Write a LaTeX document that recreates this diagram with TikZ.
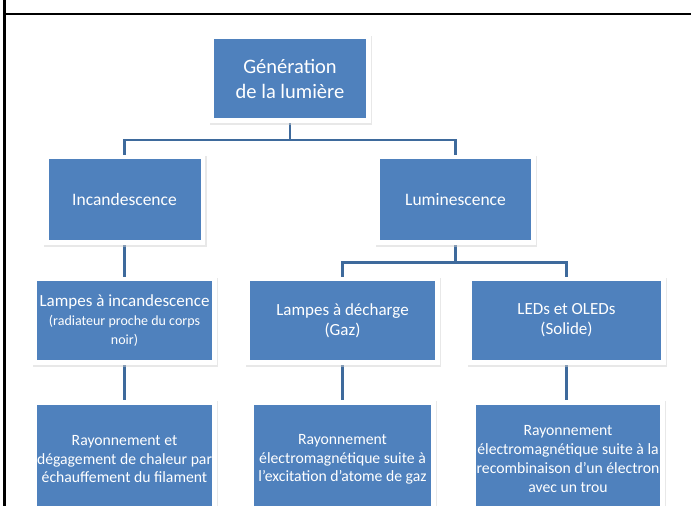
\documentclass[tikz,border=0pt]{standalone}
\usepackage{fontspec}
\setmainfont{Carlito}
\usetikzlibrary{shadows,backgrounds}
\definecolor{boxblue}{HTML}{4F81BD}
\definecolor{linkblue}{HTML}{3E6A9C}
\tikzset{
  bluebox/.style={rectangle, fill=boxblue, draw=white, line width=4.5pt,
    text=white, align=center, inner sep=0pt,
    drop shadow={shadow xshift=0.8pt, shadow yshift=-1.8pt, fill=black!18, draw=black!18, line width=6pt}},
  conn/.style={draw=linkblue, line width=2.8pt},
  frame/.style={draw=black, line width=2.4pt}
}
\begin{document}
\begin{tikzpicture}[x=1pt,y=-1pt]
\useasboundingbox (0,0) rectangle (691,506);
\draw[frame] (4.5,0) -- (4.5,506);
\draw[frame] (4.5,13.8) -- (691,13.8);

% row 1
\node[bluebox, minimum width=156.5pt, minimum height=83.5pt,
  font=\fontsize{20.5}{25}\selectfont] (root) at (290,78.5) {Génération\\de la lumière};
% row 2
\node[bluebox, minimum width=156.5pt, minimum height=85.5pt,
  font=\fontsize{17.5}{21}\selectfont] (inc) at (124.5,199.5) {Incandescence};
\node[bluebox, minimum width=155.5pt, minimum height=85.5pt,
  font=\fontsize{17.5}{21}\selectfont] (lum) at (455.5,199.5) {Luminescence};
% row 3
\node[bluebox, minimum width=179.5pt, minimum height=83.5pt,
  font=\fontsize{17}{20}\selectfont] (A) at (124.5,320.5)
  {Lampes à incandescence\\[-1pt]{\fontsize{14}{16}\selectfont (radiateur proche du corps}\\[-1pt]{\fontsize{14}{16}\selectfont noir)}};
\node[bluebox, minimum width=189.5pt, minimum height=83.5pt,
  font=\fontsize{17}{20}\selectfont] (B) at (342.5,320.5) {Lampes à décharge\\(Gaz)};
\node[bluebox, minimum width=193.5pt, minimum height=83.5pt,
  font=\fontsize{17}{20}\selectfont] (C) at (566.5,320.5) {LEDs et OLEDs\\(Solide)};
% row 4
\node[bluebox, minimum width=179.5pt, minimum height=114.5pt,
  font=\fontsize{15.7}{18.5}\selectfont] (D) at (124.5,459.5)
  {Rayonnement et\\dégagement de chaleur par\\échauffement du filament};
\node[bluebox, minimum width=181.5pt, minimum height=114.5pt,
  font=\fontsize{15.7}{18.5}\selectfont] (E) at (342.5,459.5)
  {Rayonnement\\électromagnétique suite à\\l’excitation d’atome de gaz};
\node[bluebox, minimum width=188.5pt, minimum height=114.5pt,
  font=\fontsize{15.7}{19}\selectfont] (F) at (568,459.5)
  {Rayonnement\\électromagnétique suite à la\\recombinaison d’un électron\\avec un trou};

\begin{scope}[on background layer]
  \coordinate (bar1) at (0,140);
  \coordinate (bar2) at (0,262.7);
  \draw[conn] (root.center) -- (root |- bar1);
  \draw[conn] (inc.center) |- (lum |- bar1) -- (lum.center);
  \draw[conn] (inc.center) -- (A.center);
  \draw[conn] (lum.center) -- (lum |- bar2);
  \draw[conn] (B.center) |- (C |- bar2) -- (C.center);
  \draw[conn] (A.center) -- (D.center);
  \draw[conn] (B.center) -- (E.center);
  \draw[conn] (C.center) -- (C |- F.center);
\end{scope}
\end{tikzpicture}
\end{document}
